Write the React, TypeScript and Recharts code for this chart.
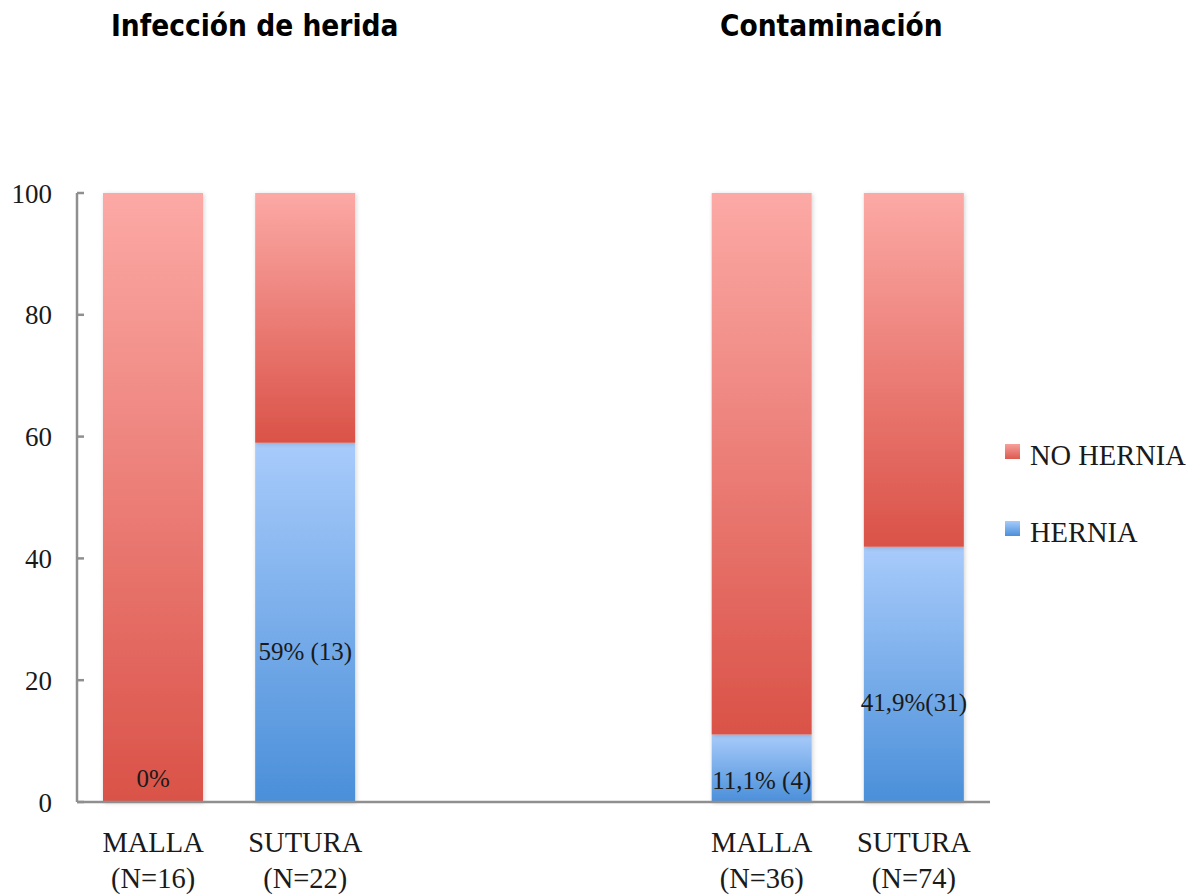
import { ComposedChart, Bar, Line, XAxis, YAxis, Legend, LabelList } from 'recharts'

const categories = ['MALLA', 'SUTURA', '', '', 'MALLA', 'SUTURA']
const groupSizes = ['(N=16)', '(N=22)', '', '', '(N=36)', '(N=74)']
const hernia = [0, 59, null, null, 11.1, 41.9]
const noHernia = [100, 41, null, null, 88.9, 58.1]
const barLabels = ['0%', '59% (13)', '', '', '11,1% (4)', '41,9%(31)']
const labelAt = [2.5, 23.3, null, null, 2.2, 15]
const yTicks = [0, 20, 40, 60, 80, 100]
const titles = ['Infección de herida', 'Contaminación']

const data = categories.map((c, i) => ({
  key: `c${i}`,
  name: c,
  n: groupSizes[i],
  hernia: hernia[i],
  noHernia: noHernia[i],
  labelAt: labelAt[i],
}))

const SERIF = '"Liberation Serif", "Times New Roman", serif'
const TITLE = '"DejaVu Sans Condensed", "DejaVu Sans", Verdana, sans-serif'

function XTick({ x, y, payload, index }: any) {
  const i = payload?.index ?? index
  if (!categories[i]) return null
  return (
    <text x={x} y={y} textAnchor="middle" fontFamily={SERIF} fontSize={28.5} fill="#1a1a1a">
      <tspan x={x} dy={42}>{categories[i]}</tspan>
      <tspan x={x} dy={36}>{groupSizes[i]}</tspan>
    </text>
  )
}

function BarText(props: any) {
  const { x, y, index } = props
  if (x == null || y == null || !barLabels[index]) return null
  return (
    <text x={x} y={y} textAnchor="middle" fontFamily={SERIF} fontSize={25} fill="#1a1a1a">
      {barLabels[index]}
    </text>
  )
}

function LegendBox() {
  const items = [
    { label: 'NO HERNIA', from: '#f7a09b', to: '#dc5a50' },
    { label: 'HERNIA', from: '#a8cbfb', to: '#4a8fd9' },
  ]
  return (
    <div style={{ fontFamily: SERIF, fontSize: 28.5, color: '#1a1a1a' }}>
      {items.map((it, i) => (
        <div key={i} style={{ display: 'flex', alignItems: 'center', height: 40, marginBottom: i === 0 ? 37 : 0 }}>
          <span style={{ width: 15, height: 15, marginRight: 10, background: `linear-gradient(${it.from}, ${it.to})`, display: 'inline-block', marginTop: -9 }} />
          <span>{it.label}</span>
        </div>
      ))}
    </div>
  )
}

export default function App() {
  return (
    <div style={{ position: 'absolute', left: 0, top: 0, width: 1196, height: 896, background: '#fff' }}>
      <div style={{ position: 'absolute', left: 111, top: 9, fontFamily: TITLE, fontWeight: 'bold', fontSize: 29.5, color: '#000' }}>{titles[0]}</div>
      <div style={{ position: 'absolute', left: 720, top: 9, fontFamily: TITLE, fontWeight: 'bold', fontSize: 29.5, color: '#000' }}>{titles[1]}</div>
      <ComposedChart width={1196} height={896} data={data} margin={{ top: 193, right: 16, bottom: 0, left: 0 }} barSize={100} barGap={0}>
        <defs>
          <linearGradient id="gRed" x1="0" y1="0" x2="0" y2="1">
            <stop offset="0%" stopColor="#fca9a5" />
            <stop offset="100%" stopColor="#da5248" />
          </linearGradient>
          <linearGradient id="gBlue" x1="0" y1="0" x2="0" y2="1">
            <stop offset="0%" stopColor="#a8cbfb" />
            <stop offset="100%" stopColor="#4a8fd9" />
          </linearGradient>
          <filter id="shadow" x="-10%" y="-5%" width="120%" height="110%">
            <feDropShadow dx="1" dy="1" stdDeviation="2" floodColor="#000" floodOpacity="0.18" />
          </filter>
        </defs>
        <XAxis
          dataKey="key"
          height={94}
          interval={0}
          tickLine={false}
          axisLine={{ stroke: '#8f8f8f', strokeWidth: 2.5 }}
          tick={<XTick />}
        />
        <YAxis
          width={77}
          domain={[0, 100]}
          ticks={yTicks}
          tickSize={-7}
          tickMargin={32}
          axisLine={{ stroke: '#8f8f8f', strokeWidth: 2.5 }}
          tickLine={{ stroke: '#8f8f8f', strokeWidth: 2.5 }}
          tick={{ fontFamily: SERIF, fontSize: 27, fill: '#1a1a1a' }}
        />
        <Legend
          layout="vertical"
          align="right"
          verticalAlign="middle"
          content={<LegendBox />}
          wrapperStyle={{ left: 1005, top: 436, width: 190 }}
        />
        <Bar dataKey="hernia" name="HERNIA" stackId="a" fill="url(#gBlue)" filter="url(#shadow)" isAnimationActive={false} />
        <Bar dataKey="noHernia" name="NO HERNIA" stackId="a" fill="url(#gRed)" filter="url(#shadow)" isAnimationActive={false} />
        <Line dataKey="labelAt" stroke="none" dot={false} activeDot={false} legendType="none" isAnimationActive={false}>
          <LabelList dataKey="labelAt" content={<BarText />} />
        </Line>
      </ComposedChart>
    </div>
  )
}
